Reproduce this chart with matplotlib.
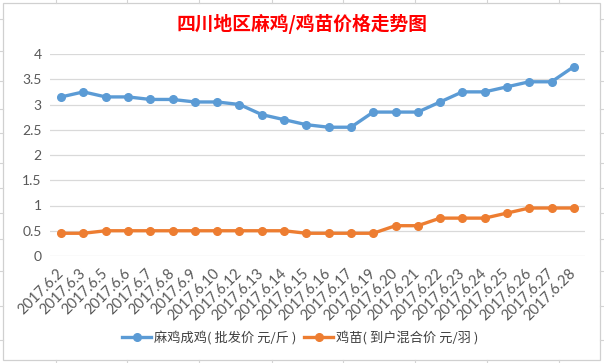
import matplotlib.pyplot as plt
from matplotlib.patches import Rectangle
from matplotlib.lines import Line2D

plt.rcParams['font.family'] = ['Noto Sans CJK SC', 'DejaVu Sans']

# data
dates = ['2017.6.2', '2017.6.3', '2017.6.5', '2017.6.6', '2017.6.7', '2017.6.8',
         '2017.6.9', '2017.6.10', '2017.6.12', '2017.6.13', '2017.6.14', '2017.6.15',
         '2017.6.16', '2017.6.17', '2017.6.19', '2017.6.20', '2017.6.21', '2017.6.22',
         '2017.6.23', '2017.6.24', '2017.6.25', '2017.6.26', '2017.6.27', '2017.6.28']
chicken = [3.15, 3.25, 3.15, 3.15, 3.1, 3.1, 3.05, 3.05, 3.0, 2.8, 2.7, 2.6,
           2.55, 2.55, 2.85, 2.85, 2.85, 3.05, 3.25, 3.25, 3.35, 3.45, 3.45, 3.75]
chick = [0.45, 0.45, 0.5, 0.5, 0.5, 0.5, 0.5, 0.5, 0.5, 0.5, 0.5, 0.45,
         0.45, 0.45, 0.45, 0.6, 0.6, 0.75, 0.75, 0.75, 0.85, 0.95, 0.95, 0.95]
yticks = [0, 0.5, 1, 1.5, 2, 2.5, 3, 3.5, 4]
ytick_labels = ['0', '0.5', '1', '1.5', '2', '2.5', '3', '3.5', '4']
names = ['麻鸡成鸡( 批发价 元/斤 )', '鸡苗( 到户混合价 元/羽 )']

W, H = 604, 363
fig = plt.figure(figsize=(W / 100, H / 100), dpi=100)

# spreadsheet cell lines peeking around the chart
grid_c = '#D4D4D4'
for x in [56, 127, 199, 272, 343, 415, 487, 559]:
    fig.add_artist(Line2D([x / W, x / W], [1, 1 - 3 / H], color=grid_c, lw=0.8))
    fig.add_artist(Line2D([x / W, x / W], [0, 3 / H], color=grid_c, lw=0.8))
for y in [19, 51, 81, 109, 133, 163, 188, 213, 239, 271, 306, 340]:
    fig.add_artist(Line2D([0, 3 / W], [1 - y / H, 1 - y / H], color=grid_c, lw=0.8))
    fig.add_artist(Line2D([600 / W, 1], [1 - y / H, 1 - y / H], color=grid_c, lw=0.8))

# chart border
fig.add_artist(Rectangle((3 / W, 1 - 360 / H), 597 / W, 357 / H, fill=False,
                         edgecolor='#D0D0D0', lw=0.9))

ax = fig.add_axes([50 / W, 1 - 256 / H, 535 / W, 202 / H])
x = range(len(dates))
l1, = ax.plot(x, chicken, color='#5B9BD5', lw=2.4, marker='o', ms=5.5, label=names[0])
l2, = ax.plot(x, chick, color='#ED7D31', lw=2.4, marker='o', ms=5.5, label=names[1])

ax.set_xlim(-0.5, len(dates) - 0.5)
ax.set_ylim(0, 4)
ax.set_yticks(yticks)
ax.set_yticklabels(ytick_labels, family='Lato', fontsize=10, color='#595959')
ax.set_xticks(list(x))
ax.set_xticklabels(dates, rotation=45, ha='right', va='center', rotation_mode='anchor',
                   family='Lato', fontsize=10.5, color='#595959')
ax.tick_params(axis='x', length=0, pad=11)
ax.tick_params(axis='y', length=0, pad=6)
ax.grid(axis='y', color='#D9D9D9', lw=0.9)
ax.set_axisbelow(True)
for s in ax.spines.values():
    s.set_visible(False)

fig.text(0.5, 1 - 24 / H, '四川地区麻鸡/鸡苗价格走势图', ha='center', va='center',
         fontsize=13.5, fontweight='bold', color='#FF0000')

fig.legend(handles=[l1, l2], loc='center', bbox_to_anchor=(0.497, 1 - 338 / H), ncol=2,
           frameon=False, fontsize=9.5, labelcolor='#404040', handlelength=2.2,
           columnspacing=0.6, handletextpad=0.2)

fig.savefig('out.png', dpi=100)
